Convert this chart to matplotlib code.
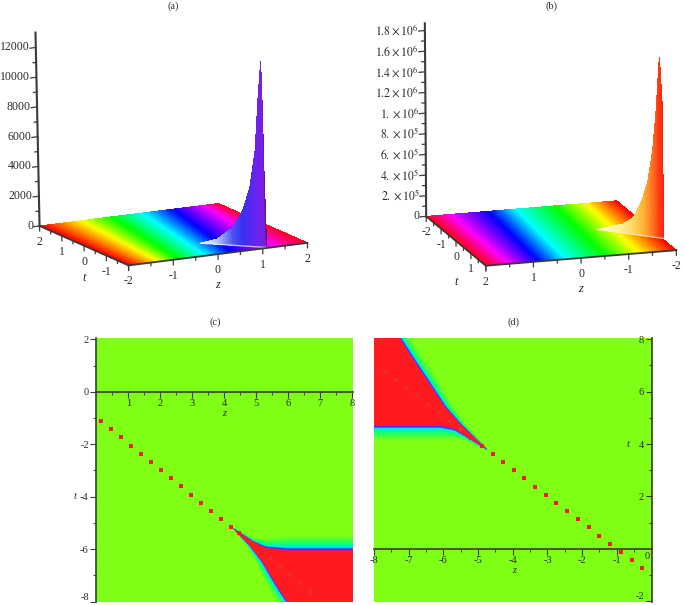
import numpy as np
import matplotlib
matplotlib.use("Agg")
import matplotlib.pyplot as plt
from matplotlib.colors import LinearSegmentedColormap
from mpl_toolkits.mplot3d import proj3d

plt.rcParams["font.family"] = ["Liberation Serif", "DejaVu Serif"]
plt.rcParams["mathtext.fontset"] = "stix"

W, H = 685, 605
AXIS_COLOR = "#3a3a3a"
TEXT_COLOR = "#2a2a2a"
GREEN = "#7fff16"
RED = "#ff1a1f"

# hue of the floor, read where each colour crosses the two long edges
band_hue = [0.0, 0.167, 0.333, 0.5, 0.667, 0.833, 1.0]
band_z_tmin_a = [-2, -1.36, -0.92, -0.32, 0.26, 1.16, 2]
band_z_tmax_a = [-2, -1.12, -0.44, 0.24, 0.92, 1.6, 2]
band_z_tmin_b = [-2, -1.36, -0.72, 0.1, 0.66, 1.44, 2]
band_z_tmax_b = [-2, -1.24, -0.54, 0.3, 0.86, 1.48, 2]

# the spike in (a)
ridge_z_a = [0.12, 0.37, 0.62, 0.77, 0.88, 0.97, 1.025, 1.08, 1.09, 1.095, 1.105, 1.11]
ridge_t_a = [-0.96, -1.21, -1.46, -1.61, -1.72, -1.81, -1.87, -1.92, -1.93, -1.94, -1.95, -1.95]
ridge_h_a = [0, 340, 1210, 2430, 3980, 6470, 9880, 12500, 9500, 5000, 2000, 0]
ridge_colors_a = [(0.0, "#f2f6ff"), (0.25, "#b8c8ff"), (0.5, "#4a50f8"), (0.65, "#3a30f0"),
                  (0.78, "#5528f0"), (0.87, "#6a22f0"), (0.97, "#7a20e0"), (1.0, "#3a0a80")]

# the spike in (b)
ridge_z_b = [-0.97, -1.38, -1.54, -1.68, -1.78, -1.86, -1.92, -1.98, -2.02, -2.03]
ridge_t_b = [0.0, 0.41, 0.57, 0.71, 0.81, 0.89, 0.95, 1.01, 1.05, 1.06]
ridge_h_b = [0, 8.7e4, 1.6e5, 3.3e5, 5.3e5, 8.3e5, 1.22e6, 1.76e6, 1.3e6, 0]
ridge_colors_b = [(0.0, "#fffbd0"), (0.31, "#fff4a0"), (0.55, "#ffd860"), (0.71, "#ffb030"),
                  (0.86, "#ff6a20"), (0.97, "#ff2a10"), (1.0, "#ff2010")]

height_ticks_a = [0, 2000, 4000, 6000, 8000, 10000, 12000]
height_labels_a = ["0", "2000", "4000", "6000", "8000", "10000", "12000"]
height_ticks_b = [0, 2e5, 4e5, 6e5, 8e5, 1e6, 1.2e6, 1.4e6, 1.6e6, 1.8e6]
height_labels_b = ["0", r"$2.\times10^{5}$", r"$4.\times10^{5}$", r"$6.\times10^{5}$", r"$8.\times10^{5}$",
                   r"$1.\times10^{6}$", r"$1.2\times10^{6}$", r"$1.4\times10^{6}$", r"$1.6\times10^{6}$",
                   r"$1.8\times10^{6}$"]

# (c) dots on the green and the faint ones inside the red
dots_z_c = [0.14, 0.45, 0.77, 1.08, 1.40, 1.70, 2.01, 2.33, 2.64, 2.95, 3.27, 3.58, 3.90, 4.21, 4.46]
dots_t_c = [-1.11, -1.43, -1.74, -2.05, -2.36, -2.68, -2.99, -3.30, -3.60, -3.92, -4.24, -4.54, -4.86, -5.17, -5.40]
faint_z_c = [5.44, 5.76, 6.07, 6.39, 6.70]
faint_t_c = [-6.35, -6.67, -6.98, -7.30, -7.62]

# (d)
dots_z_d = [-0.26, -0.56, -0.87, -1.19, -1.50, -1.81, -2.11, -2.43, -2.74, -3.04, -3.36, -3.67, -3.97, -4.28, -4.58, -4.90, -5.21]
dots_t_d = [-0.75, -0.43, -0.13, 0.19, 0.50, 0.82, 1.12, 1.44, 1.75, 2.06, 2.37, 2.69, 3.00, 3.31, 3.62, 3.94, 4.24]
faint_z_d = [-5.51, -5.83, -6.14, -6.45, -6.76, -7.07, -7.38, -7.69]
faint_t_d = [4.56, 4.88, 5.18, 5.50, 5.81, 6.13, 6.45, 6.75]

# edges of the red wedges, tip first
diag_z_c = [4.30, 4.80, 5.22, 5.53, 5.79, 6.03]
diag_t_c = [-5.22, -5.84, -6.48, -7.11, -7.62, -8.05]
diag_spread_c = [0.05, 0.35, 0.7, 0.9, 1.0, 1.0]
flat_z_c = [4.30, 4.90, 5.32, 5.95, 8.05]
flat_t_c = [-5.22, -5.71, -5.97, -6.06, -6.06]
flat_spread_c = [0.05, 0.25, 0.65, 1.0, 1.0]

diag_z_d = [-4.75, -5.49, -5.97, -6.45, -6.93, -7.29]
diag_t_d = [3.80, 4.73, 5.43, 6.38, 7.34, 8.08]
diag_spread_d = [0.05, 0.5, 0.8, 1.0, 1.0, 1.0]
flat_z_d = [-4.75, -5.35, -5.68, -6.07, -8.0]
flat_t_d = [3.80, 4.31, 4.60, 4.73, 4.73]
flat_spread_d = [0.05, 0.3, 0.7, 1.0, 1.0]

wedge_cmap = LinearSegmentedColormap.from_list(
    "wedge",
    [(0.0, RED), (0.06, "#d812d8"), (0.12, "#2222ff"), (0.21, "#00dcff"),
     (0.38, "#00ff90"), (0.68, "#44ff3c"), (1.0, GREEN)],
)
hsv = plt.get_cmap("hsv")

fig = plt.figure(figsize=(W / 100, H / 100), dpi=100)


def add_3d(left, bottom, size, elev, azim, roll, aspect, zmax):
    ax = fig.add_axes([left / W, bottom / H, size / W, size / H], projection="3d",
                      proj_type="ortho", computed_zorder=False)
    ax.view_init(elev=elev, azim=azim, roll=roll)
    ax.set_box_aspect(aspect)
    ax.set_axis_off()
    ax.patch.set_alpha(0)
    ax.set_xlim(-2, 2)
    ax.set_ylim(-2, 2)
    ax.set_zlim(0, zmax)
    return ax


def draw_floor(ax, z_tmin, z_tmax):
    zz, tt = np.meshgrid(np.linspace(-2, 2, 161), np.linspace(-2, 2, 25))
    hue = np.zeros(zz.shape)
    for i, t in enumerate(tt[:, 0]):
        f = (t + 2) / 4
        hue[i] = np.interp(zz[i], (1 - f) * np.array(z_tmin) + f * np.array(z_tmax), band_hue)
    ax.plot_surface(zz, tt, np.zeros(zz.shape), facecolors=hsv(hue), rstride=1, cstride=1,
                    shade=False, linewidth=0, antialiased=False, zorder=1)


def draw_spike(ax, ridge_z, ridge_t, ridge_h, colors, streak):
    # same straight pieces as the read points, only cut finer for the colour ramp
    u = np.linspace(0, len(ridge_z) - 1, 260)
    idx = np.arange(len(ridge_z))
    z = np.interp(u, idx, ridge_z)
    t = np.interp(u, idx, ridge_t)
    h = np.interp(u, idx, ridge_h)
    cmap = LinearSegmentedColormap.from_list("spike", colors)
    c = cmap(np.abs(z - ridge_z[0]) / abs(ridge_z[-1] - ridge_z[0]))
    ax.plot_surface(np.array([z, z]), np.array([t, t]), np.array([0 * h, h]),
                    facecolors=np.array([c, c]), rstride=1, cstride=1, shade=False,
                    linewidth=0, antialiased=False, zorder=2)
    ax.plot(ridge_z, ridge_t, 0 * np.array(ridge_h), color=streak, lw=1.0, alpha=0.7, zorder=3)


def label3d(ax, x, y, z, s, dx=0, dy=0, **kw):
    # a plain 2D text at the projected spot, shifted by some pixels
    px, py, _ = proj3d.proj_transform(x, y, z, ax.get_proj())
    ax.annotate(s, (px, py), xytext=(dx, dy), textcoords="offset pixels", color=TEXT_COLOR,
                annotation_clip=False, zorder=6, **kw)


def draw_axes3d(ax, z_at, t_at, side, zmax, ticks, labels, minor, z_lab, t_lab):
    tick = zmax * 5 / 193
    small = zmax * 3 / 193
    ax.plot([-2, 2], [z_at, z_at], [0, 0], color=AXIS_COLOR, lw=1.3, zorder=4)
    ax.plot([t_at, t_at], [-2, 2], [0, 0], color=AXIS_COLOR, lw=1.3, zorder=4)
    ax.plot([t_at, t_at], [-z_at, -z_at], [0, zmax], color=AXIS_COLOR, lw=1.5, zorder=4)
    for v in np.arange(-2, 2.01, 0.5):
        ln = tick if float(v).is_integer() else small
        ax.plot([v, v], [z_at, z_at], [0, -ln], color=AXIS_COLOR, lw=0.9, zorder=4)
        ax.plot([t_at, t_at], [v, v], [0, -ln], color=AXIS_COLOR, lw=0.9, zorder=4)
    for v in minor:
        ax.plot([t_at, t_at + side * 0.07], [-z_at, -z_at], [v, v], color=AXIS_COLOR, lw=0.9, zorder=4)
    for v, s in zip(ticks, labels):
        ax.plot([t_at, t_at + side * 0.13], [-z_at, -z_at], [v, v], color=AXIS_COLOR, lw=0.9, zorder=4)
        label3d(ax, t_at, -z_at, v, s, dx=-6.5, ha="right", va="center", fontsize=8.5)
    for v, s in z_lab:
        label3d(ax, v, z_at, 0, s, dy=-16, ha="center", va="center", fontsize=8.5)
    for v, s in t_lab:
        label3d(ax, t_at, v, 0, s, dy=-16, ha="center", va="center", fontsize=8.5)


def draw_map(ax, diag_z, diag_t, diag_spread, flat_z, flat_t, flat_spread, side, up, diag_w, flat_w):
    ax.set_facecolor(GREEN)
    for f in np.linspace(1, 0, 41):
        dz = np.array(diag_z) + side * f * diag_w * np.array(diag_spread)
        dt = np.array(diag_t)
        fz = np.array(flat_z)
        ft = np.array(flat_t) + up * f * flat_w * np.array(flat_spread)
        xs = np.concatenate([dz, [fz[-1]], fz[::-1]])
        ys = np.concatenate([dt, [dt[-1]], ft[::-1]])
        ax.fill(xs, ys, color=wedge_cmap(f), lw=0, zorder=1)


def style_map(ax, x_ticks, y_ticks, x_minor, y_minor):
    for name in ("top", "right"):
        ax.spines[name].set_visible(False)
    for name in ("left", "bottom"):
        ax.spines[name].set_color(AXIS_COLOR)
        ax.spines[name].set_linewidth(1.2)
    ax.set_xticks(x_ticks)
    ax.set_xticklabels([str(v) for v in x_ticks])
    ax.set_yticks(y_ticks)
    ax.set_yticklabels([str(v) for v in y_ticks])
    ax.set_xticks(x_minor, minor=True)
    ax.set_yticks(y_minor, minor=True)
    ax.tick_params(which="major", length=4, width=0.8, color=AXIS_COLOR, labelsize=7.5, pad=1.5,
                   labelcolor=TEXT_COLOR)
    ax.tick_params(which="minor", length=2, width=0.7, color=AXIS_COLOR)
    # lowest label sits right at the picture edge
    ax.get_yticklabels()[0].set_verticalalignment("bottom")


# (a)
ax_a = add_3d(-2.1, 293.7, 338, 12.8, -115.3, 1.2, (1, 1.04, 1), 13000)
draw_floor(ax_a, band_z_tmin_a, band_z_tmax_a)
draw_spike(ax_a, ridge_z_a, ridge_t_a, ridge_h_a, ridge_colors_a, "#e6efff")
draw_axes3d(ax_a, -2, -2, -1, 13000, height_ticks_a, height_labels_a, np.arange(1000, 13000, 2000),
            [(-2, "-2"), (-1, "-1"), (0, "0"), (1, "1"), (2, "2")],
            [(2, "2"), (1, "1"), (0, "0"), (-1, "-1")])
label3d(ax_a, -2, 0, 0, "t", dy=-32, ha="center", va="center", fontsize=9, style="italic")
label3d(ax_a, 0, -2, 0, "z", dy=-31, ha="center", va="center", fontsize=9, style="italic")

# (b)
ax_b = add_3d(376.2, 293.85, 339.6, 14.5, 73.4, 0.4, (1, 1.043, 1.0025), 1.87e6)
draw_floor(ax_b, band_z_tmin_b, band_z_tmax_b)
draw_spike(ax_b, ridge_z_b, ridge_t_b, ridge_h_b, ridge_colors_b, "#ffe9c8")
draw_axes3d(ax_b, 2, 2, 1, 1.87e6, height_ticks_b, height_labels_b, np.arange(1e5, 1.87e6, 2e5),
            [(2, "2"), (1, "1"), (0, "0"), (-1, "-1"), (-2, "-2")],
            [(-2, "-2"), (-1, "-1"), (0, "0"), (1, "1")])
label3d(ax_b, 2, 0, 0, "t", dy=-41, ha="center", va="center", fontsize=9, style="italic")
label3d(ax_b, 0, 2, 0, "z", dy=-31, ha="center", va="center", fontsize=9, style="italic")

# (c)
ax_c = fig.add_axes([96.4 / W, 3.3 / H, 256.3 / W, 264 / H])
draw_map(ax_c, diag_z_c, diag_t_c, diag_spread_c, flat_z_c, flat_t_c, flat_spread_c, -1, 1, 0.34, 0.6)
ax_c.scatter(faint_z_c, faint_t_c, marker="s", s=6, color="#ee2a33", lw=0, zorder=2)
ax_c.scatter(dots_z_c, dots_t_c, marker="s", s=7, color="#ff1430", lw=0, zorder=3)
ax_c.set_xlim(0, 8.03)
ax_c.set_ylim(-8, 2.06)
ax_c.spines["bottom"].set_position(("data", 0))
style_map(ax_c, [1, 2, 3, 4, 5, 6, 7, 8], [-8, -6, -4, -2, 0, 2],
          np.arange(0.5, 8, 1), np.arange(-7, 2, 2))
ax_c.text(4.0, -0.82, "z", fontsize=7.5, style="italic", ha="center", va="center", color=TEXT_COLOR)
ax_c.text(-0.68, -4.0, "t", fontsize=7.5, style="italic", ha="center", va="center", color=TEXT_COLOR,
          clip_on=False)

# (d)
ax_d = fig.add_axes([374 / W, 3.3 / H, 277.5 / W, 264 / H])
draw_map(ax_d, diag_z_d, diag_t_d, diag_spread_d, flat_z_d, flat_t_d, flat_spread_d, 1, -1, 0.34, 0.62)
ax_d.scatter(faint_z_d, faint_t_d, marker="s", s=6, color="#ee2a33", lw=0, zorder=2)
ax_d.scatter(dots_z_d, dots_t_d, marker="s", s=7, color="#ff1430", lw=0, zorder=3)
ax_d.set_xlim(-7.96, 0)
ax_d.set_ylim(-2.02, 8.06)
ax_d.spines["bottom"].set_position(("data", 0))
ax_d.spines["left"].set_position(("data", 0))
style_map(ax_d, [-8, -7, -6, -5, -4, -3, -2, -1], [-2, 2, 4, 6, 8],
          np.arange(-7.5, 0, 1), np.arange(-1, 8, 2))
ax_d.text(-0.12, -0.28, "0", fontsize=7.5, ha="center", va="center", color=TEXT_COLOR)
ax_d.text(-3.95, -0.82, "z", fontsize=7.5, style="italic", ha="center", va="center", color=TEXT_COLOR)
ax_d.text(-0.67, 4.0, "t", fontsize=7.5, style="italic", ha="center", va="center", color=TEXT_COLOR)

for label, x, y in [("(a)", 173, 6), ("(b)", 552, 6), ("(c)", 215, 322), ("(d)", 514, 322)]:
    fig.text(x / W, 1 - y / H, label, ha="center", va="center", fontsize=7.5, color=TEXT_COLOR)

fig.savefig("out.png", dpi=100)
